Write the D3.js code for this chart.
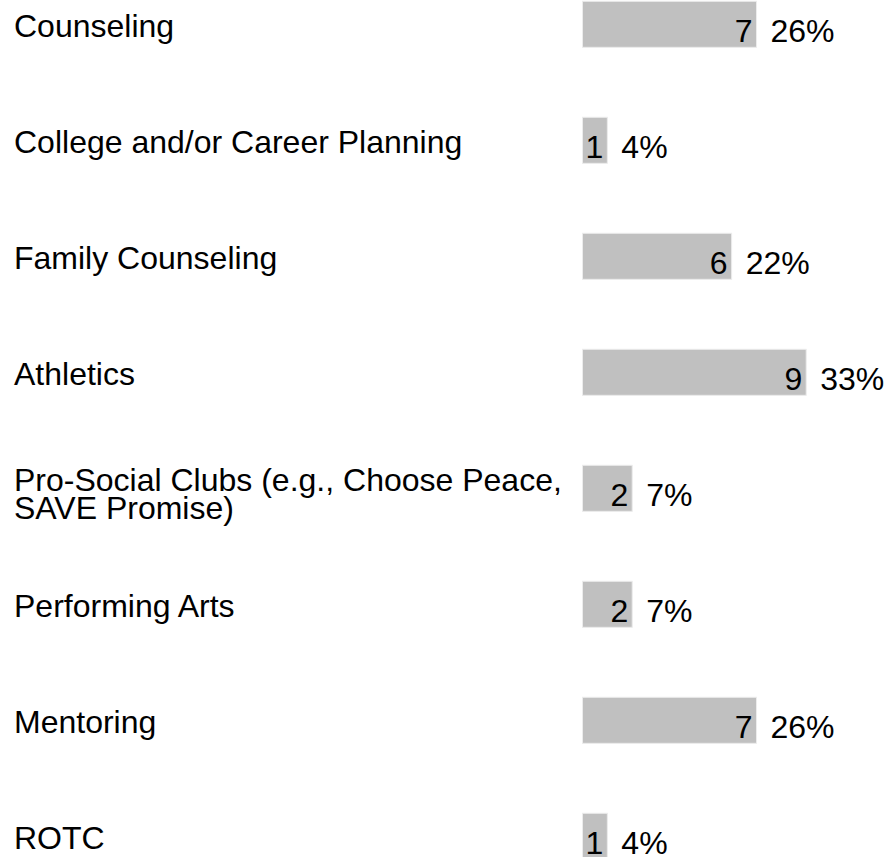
<!DOCTYPE html>
<html>
<head>
<meta charset="utf-8">
<script src="https://cdn.jsdelivr.net/npm/d3@7"></script>
<style>
  html, body { margin: 0; padding: 0; background: #fff; }
  svg { display: block; }
</style>
</head>
<body>
<div id="chart"></div>
<script>
// -------- Data --------
const categories = [
  'Counseling',
  'College and/or Career Planning',
  'Family Counseling',
  'Athletics',
  'Pro-Social Clubs (e.g., Choose Peace,\nSAVE Promise)',
  'Performing Arts',
  'Mentoring',
  'ROTC'
];
const counts   = [7, 1, 6, 9, 2, 2, 7, 1];
const percents = ['26%', '4%', '22%', '33%', '7%', '7%', '26%', '4%'];

const data = categories.map((c, i) => ({ name: c, count: counts[i], pct: percents[i] }));

// -------- Dimensions --------
const svgWidth  = 888;
const svgHeight = 857;
const fontFamily = '"Liberation Sans", Arial, Helvetica, sans-serif';
const fontSize = 32;

const svg = d3.select('#chart')
  .append('svg')
    .attr('width',  svgWidth)
    .attr('height', svgHeight);

// -------- Scales --------
const rowStep = 116;
const barH = 46;
const pad = (rowStep - barH) / rowStep;
const y0 = 1.3 - (rowStep - barH) / 2;

const yScale = d3.scaleBand()
  .domain(categories)
  .range([y0, y0 + rowStep * categories.length])
  .paddingInner(pad)
  .paddingOuter(pad / 2);

const xScale = d3.scaleLinear()
  .domain([0, d3.max(counts)])
  .range([582.5, 806.2]);

// -------- Rows --------
const rows = svg.selectAll('g.row')
  .data(data)
  .join('g')
    .attr('class', 'row')
    .attr('transform', d => `translate(0,${yScale(d.name)})`);

const mid = yScale.bandwidth() / 2;

// bars
rows.append('rect')
  .attr('x', xScale(0))
  .attr('y', 0)
  .attr('width', d => xScale(d.count) - xScale(0))
  .attr('height', yScale.bandwidth())
  .attr('fill', '#c0c0c0')
  .attr('stroke', '#ececec')
  .attr('stroke-width', 1);

// category labels (may wrap onto two lines)
rows.append('text')
  .attr('x', 14)
  .attr('fill', '#000')
  .style('font-family', fontFamily)
  .style('font-size', fontSize + 'px')
  .each(function(d) {
    const lines = d.name.split('\n');
    const first = lines.length > 1 ? mid + 2.4 : mid + 13;
    d3.select(this).selectAll('tspan')
      .data(lines)
      .join('tspan')
        .attr('x', 14)
        .attr('y', (l, i) => first + i * 28.5)
        .text(l => l);
  });

// count inside bar
rows.append('text')
  .attr('x', d => xScale(d.count) - 4)
  .attr('y', mid + 18)
  .attr('text-anchor', 'end')
  .attr('fill', '#000')
  .style('font-family', fontFamily)
  .style('font-size', fontSize + 'px')
  .text(d => d.count);

// percent after bar
rows.append('text')
  .attr('x', d => xScale(d.count) + 14)
  .attr('y', mid + 18)
  .attr('fill', '#000')
  .style('font-family', fontFamily)
  .style('font-size', fontSize + 'px')
  .text(d => d.pct);
</script>
</body>
</html>
